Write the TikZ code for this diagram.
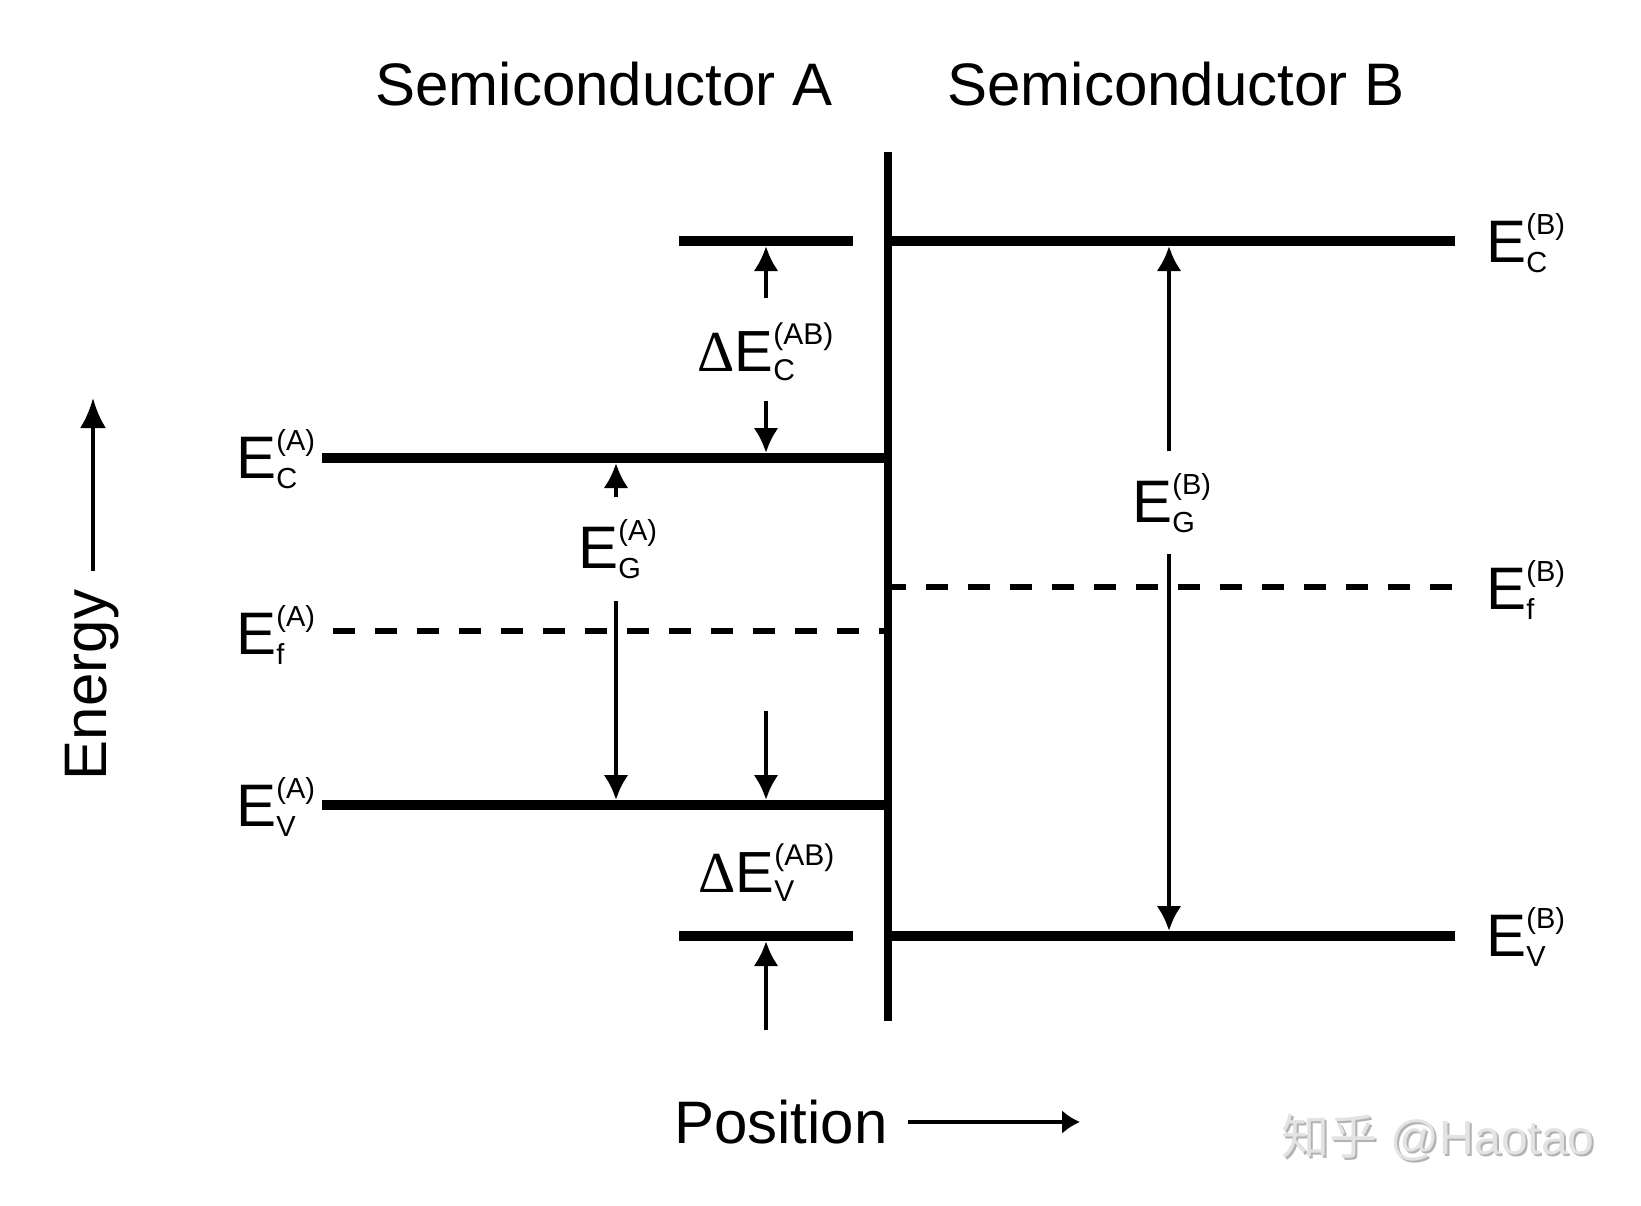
\documentclass[tikz,border=0pt]{standalone}
\usepackage{fontspec}
\setmainfont{Liberation Sans}
\newfontfamily\serifD{Liberation Serif}
\newfontfamily\cjkfont{Noto Sans CJK SC}
\usetikzlibrary{arrows.meta}
\newcommand\Elab[4]{#1\rlap{\raisebox{0.46em}{\fontsize{#4}{#4}\selectfont #3}}\raisebox{-0.17em}{\fontsize{#4}{#4}\selectfont #2}}
\begin{document}
\begin{tikzpicture}[x=0.5pt,y=-0.5pt,
  band/.style={line width=4.6pt},
  iface/.style={line width=4pt},
  fermi/.style={line width=3pt, dash pattern=on 11pt off 10pt},
  gaparrow/.style={line width=2.4pt, -{Latex[length=12.5pt,width=12.5pt]}},
  axisarrow/.style={line width=2pt, -{Latex[length=15pt,width=13pt]}},
  posarrow/.style={line width=2pt, -{Latex[length=9pt,width=12pt]}},
  big/.style={font=\fontsize{30pt}{36pt}\selectfont, inner sep=0pt},
  lab/.style={font=\fontsize{30pt}{36pt}\selectfont, inner sep=0pt, anchor=base west},
  dlab/.style={font=\fontsize{29pt}{34pt}\selectfont, inner sep=0pt, anchor=base west},
]
\useasboundingbox[fill=white] (0,0) rectangle (1641,1205);

% titles
\node[big] (tA) at (604,84) {Semiconductor A};
\node[big] (tB) at (1176,84) {Semiconductor B};

% interface
\coordinate (ifT) at (888,152);
\coordinate (ifB) at (888,1021);
\draw[iface] (ifT) -- (ifB);

% band edges A
\coordinate (ecA1) at (322,458);  \coordinate (ecA2) at (888,458);
\coordinate (efA1) at (333,631);  \coordinate (efA2) at (888,631);
\coordinate (evA1) at (322,805);  \coordinate (evA2) at (888,805);
\draw[band] (ecA1) -- (ecA2);
\draw[fermi] (efA1) -- (efA2);
\draw[band] (evA1) -- (evA2);

% band edges B
\coordinate (ecB1) at (888,241);  \coordinate (ecB2) at (1455,241);
\coordinate (efB1) at (888,587);  \coordinate (efB2) at (1452,587);
\coordinate (evB1) at (888,936);  \coordinate (evB2) at (1455,936);
\draw[band] (ecB1) -- (ecB2);
\draw[fermi] (efB2) -- (efB1);
\draw[band] (evB1) -- (evB2);

% reference bars
\coordinate (rc1) at (679,241); \coordinate (rc2) at (853,241);
\coordinate (rv1) at (679,936); \coordinate (rv2) at (853,936);
\draw[band] (rc1) -- (rc2);
\draw[band] (rv1) -- (rv2);

% labels A
\node[lab] (lecA) at (236,478) {\Elab{E}{C}{(A)}{14.5pt}};
\node[lab] (lefA) at (236,654) {\Elab{E}{f}{(A)}{14.5pt}};
\node[lab] (levA) at (236,826) {\Elab{E}{V}{(A)}{14.5pt}};
% labels B
\node[lab] (lecB) at (1486,262) {\Elab{E}{C}{(B)}{14.5pt}};
\node[lab] (lefB) at (1486,609) {\Elab{E}{f}{(B)}{14.5pt}};
\node[lab] (levB) at (1486,956) {\Elab{E}{V}{(B)}{14.5pt}};

% Delta E_C
\coordinate (dc1s) at (766,298); \coordinate (dc1e) at (766,246);
\coordinate (dc2s) at (766,401); \coordinate (dc2e) at (766,453);
\draw[gaparrow] (dc1s) -- (dc1e);
\draw[gaparrow] (dc2s) -- (dc2e);
\node[dlab] (ldc) at (697,371) {{\serifD Δ}\Elab{E}{C}{(AB)}{15pt}};

% E_G^A
\coordinate (ga1s) at (616,497); \coordinate (ga1e) at (616,463);
\coordinate (ga2s) at (616,601); \coordinate (ga2e) at (616,800);
\draw[gaparrow] (ga1s) -- (ga1e);
\draw[gaparrow] (ga2s) -- (ga2e);
\node[lab] (lgA) at (578,568) {\Elab{E}{G}{(A)}{14.5pt}};

% Delta E_V
\coordinate (dv1s) at (766,711); \coordinate (dv1e) at (766,800);
\coordinate (dv2s) at (766,1030); \coordinate (dv2e) at (766,941);
\draw[gaparrow] (dv1s) -- (dv1e);
\draw[gaparrow] (dv2s) -- (dv2e);
\node[dlab] (ldv) at (698,892) {{\serifD Δ}\Elab{E}{V}{(AB)}{15pt}};

% E_G^B
\coordinate (gb1s) at (1169,451); \coordinate (gb1e) at (1169,246);
\coordinate (gb2s) at (1169,554); \coordinate (gb2e) at (1169,931);
\draw[gaparrow] (gb1s) -- (gb1e);
\draw[gaparrow] (gb2s) -- (gb2e);
\node[lab] (lgB) at (1132,522) {\Elab{E}{G}{(B)}{14.5pt}};

% axes
\node[big, rotate=90] (energy) at (92,685) {Energy};
\coordinate (ea1) at (93,571); \coordinate (ea2) at (93,398);
\draw[axisarrow] (ea1) -- (ea2);
\node[big] (pos) at (781,1122) {Position};
\coordinate (pa1) at (908,1122); \coordinate (pa2) at (1080,1122);
\draw[posarrow] (pa1) -- (pa2);

% watermark
\node[font=\fontsize{24pt}{28pt}\selectfont, text=gray!60, inner sep=0pt] (wms) at (1440,1140) {{\cjkfont 知乎} @Haotao};
\node[font=\fontsize{24pt}{28pt}\selectfont, text=gray!22, inner sep=0pt] (wm) at (1438,1138) {{\cjkfont 知乎} @Haotao};
\end{tikzpicture}
\end{document}
